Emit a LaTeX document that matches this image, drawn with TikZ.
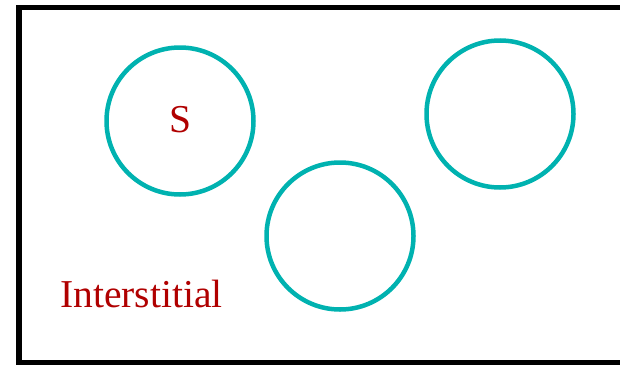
\documentclass[tikz,border=0pt]{standalone}
\usepackage{fontspec}
\setmainfont{Liberation Serif}
\usepackage{tikz}
\usetikzlibrary{positioning}
\definecolor{cellteal}{RGB}{0,178,176}
\definecolor{labelred}{RGB}{176,0,0}

\begin{document}
\begin{tikzpicture}[
  x=1pt, y=-1pt,
  every node/.style={font=\fontsize{39.5}{42}\selectfont, text=labelred, inner sep=0pt},
  cell/.style={circle, draw=cellteal, line width=4.5pt, minimum size=147pt},
  frame/.style={draw=black, line width=5.5pt}
]
\useasboundingbox (0,0) rectangle (620,364);

% Outer box
\draw[frame] (19,7.5) rectangle (630,363);

% Spheres
\node[cell] (s1) at (180,121) {};
\node[cell] (s2) at (340,236) {};
\node[cell] (s3) at (500,114) {};

% Labels
\node[anchor=base] (slabel) at (180,132.5) {S};
\node[anchor=base west] (inter) at (60,307) {Interstitial};

\end{tikzpicture}
\end{document}
